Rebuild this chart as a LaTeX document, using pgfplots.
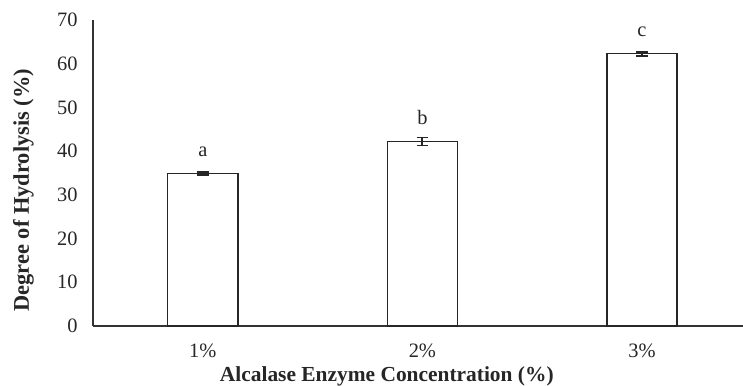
\documentclass[border=0pt]{standalone}
\usepackage{pgfplots}
\pgfplotsset{compat=1.18}
\usepackage{fontspec}
\setmainfont{Liberation Serif}
\pgfplotstableread{
x y e lab
0 34.9 0.35 a
1 42.2 0.9 b
2 62.3 0.45 c
}\datatable
\begin{document}
\begin{tikzpicture}
\begin{axis}[
  scale only axis, width=650bp, height=306bp,
  xmin=-0.5, xmax=2.46, ymin=0, ymax=70,
  axis x line*=bottom, axis y line*=left,
  axis line style={draw=black!80, line width=1.3bp},
  ytick={0,10,...,70}, xtick={0,1,2}, xticklabels={1\%,2\%,3\%},
  tick style={draw=none},
  /pgf/number format/assume math mode=true,
  tick label style={font=\fontsize{20.5}{24}\selectfont, text=black!85},
  yticklabel style={xshift=-12bp},
  xticklabel style={yshift=-14bp},
  xlabel={Alcalase Enzyme Concentration (\%)},
  ylabel={Degree of Hydrolysis (\%)},
  label style={font=\fontsize{21.5}{25}\selectfont\bfseries, text=black!85},
  xlabel style={at={(axis description cs:0.452,-0.182)}, anchor=base},
  ylabel style={at={(axis description cs:-0.0985,0.444)}, anchor=base, rotate=0, font=\fontsize{22.5}{26}\selectfont\bfseries},
  clip=false,
]
\coordinate (bl) at (rel axis cs:0,0);
\addplot[ybar, bar width=0.32, fill=white, draw=black!85, line width=1.4bp,
  point meta=explicit symbolic,
  nodes near coords,
  nodes near coords style={anchor=base, yshift=17bp, font=\fontsize{20.5}{24}\selectfont, text=black!85},
  error bars/.cd, y dir=both, y explicit,
  error bar style={line width=1.8bp, draw=black!85},
  error mark options={rotate=90, mark size=5.8bp, line width=1.8bp, draw=black!85}]
  table[x=x, y=y, y error=e, meta=lab] {\datatable};
\end{axis}
\pgfresetboundingbox
\path (bl) ++(-93bp,-60bp) rectangle ++(743bp,386bp);
\end{tikzpicture}
\end{document}
